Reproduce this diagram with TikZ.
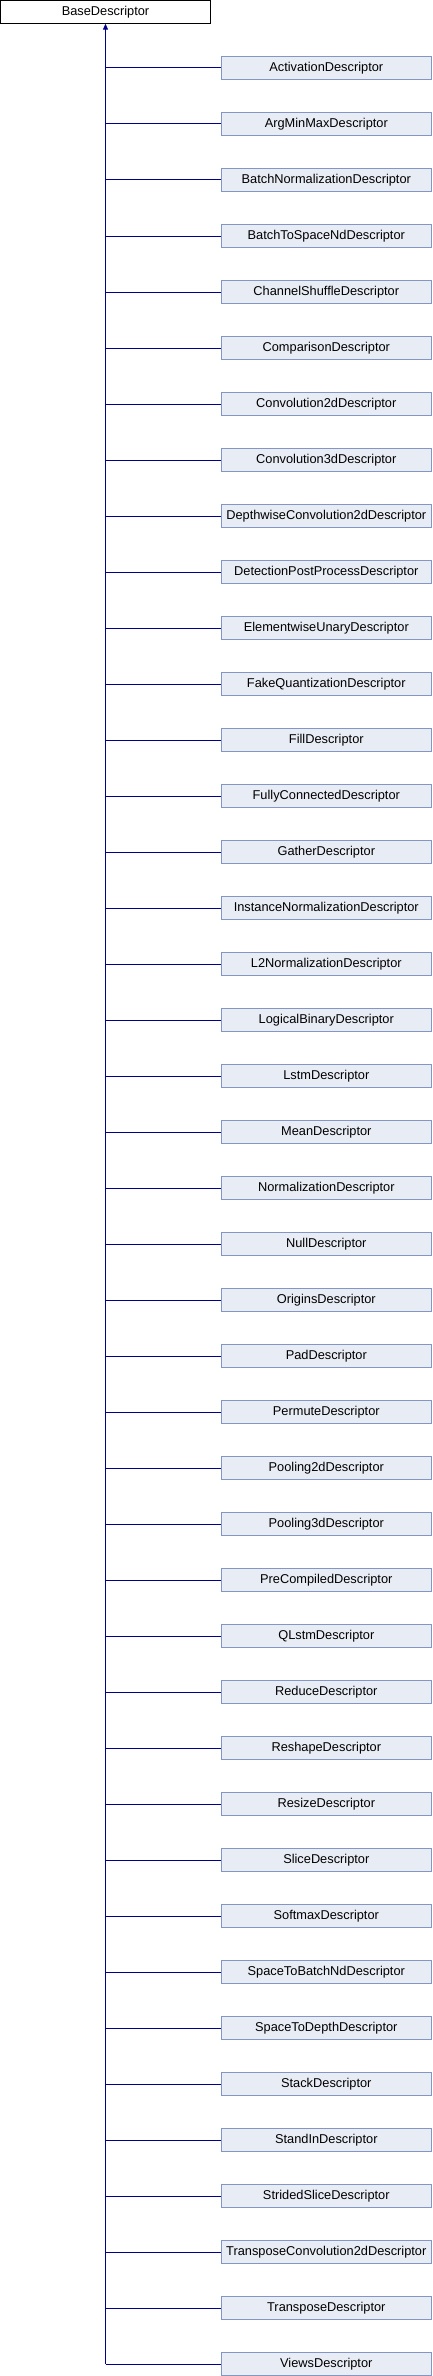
\documentclass[tikz,border=0pt]{standalone}
\usepackage{fontspec}
\setmainfont{Liberation Sans}
\usetikzlibrary{arrows.meta,positioning}
\definecolor{edgeblue}{RGB}{0,0,139}
\definecolor{boxline}{RGB}{132,150,200}
\definecolor{boxfill}{RGB}{232,236,245}

\begin{document}
\begin{tikzpicture}[x=1pt,y=-1pt]
	\tikzset{
		basebox/.style={draw=black,fill=white,line width=1pt,minimum width=210pt,minimum height=22.7pt,inner sep=0pt,font=\fontsize{12.8}{15}\selectfont},
		derivedbox/.style={draw=boxline,fill=boxfill,line width=1pt,minimum width=210pt,minimum height=22.7pt,inner sep=0pt,font=\fontsize{12.8}{15}\selectfont},
		inherit/.style={draw=edgeblue,line width=1pt}
	}
	\useasboundingbox (0,0) rectangle (432,2376);

	\node[basebox] (base) at (105.5,11.8) {BaseDescriptor};

	\foreach \name [count=\i from 0] in {Activation,ArgMinMax,BatchNormalization,BatchToSpaceNd,ChannelShuffle,Comparison,Convolution2d,Convolution3d,DepthwiseConvolution2d,DetectionPostProcess,ElementwiseUnary,FakeQuantization,Fill,FullyConnected,Gather,InstanceNormalization,L2Normalization,LogicalBinary,Lstm,Mean,Normalization,Null,Origins,Pad,Permute,Pooling2d,Pooling3d,PreCompiled,QLstm,Reduce,Reshape,Resize,Slice,Softmax,SpaceToBatchNd,SpaceToDepth,Stack,StandIn,StridedSlice,TransposeConvolution2d,Transpose,Views} {
		\node[derivedbox] (d\i) at (326.3,68+56*\i) {\name Descriptor};
		\coordinate (j\i) at (105.5,68+56*\i);
		\draw[inherit] (j\i) -- (d\i.west);
	}

	\draw[inherit,-{Triangle[width=5pt,length=6pt]}] (j41) -- (base.south);
\end{tikzpicture}
\end{document}
